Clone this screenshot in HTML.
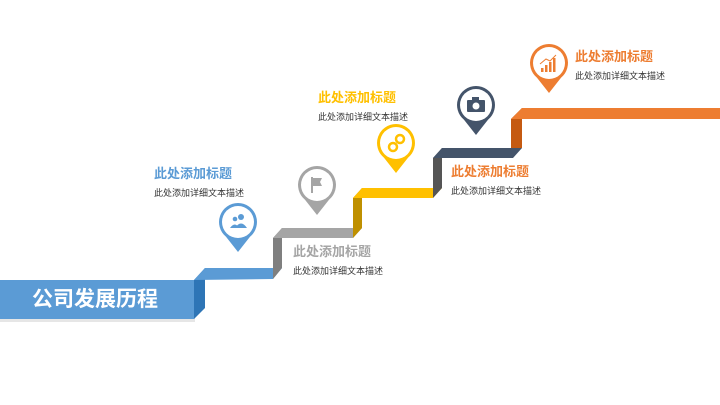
<!DOCTYPE html>
<html><head><meta charset="utf-8"><style>
html,body{margin:0;padding:0;background:#fff;}
svg{display:block;}
text{font-family:"Liberation Sans","Noto Sans CJK SC",sans-serif;}
.t{font-size:13px;font-weight:bold;}
.d{font-size:9px;fill:#333;}
</style></head><body>
<svg width="720" height="405" viewBox="0 0 720 405" xmlns="http://www.w3.org/2000/svg">
<defs>
<symbol id="pin" viewBox="-20 -20 40 52" overflow="visible">
<path d="M0,-19 A19,19 0 0 1 12,14.7 L0,30 L-12,14.7 A19,19 0 0 1 0,-19 Z" fill="currentColor"/>
<circle cx="0" cy="0" r="16" fill="#fff"/>
</symbol>
</defs>
<rect x="0" y="318" width="195" height="4" fill="#e6e6e6"/>
<rect x="0" y="280" width="194" height="39" fill="#5b9bd5"/>
<polygon points="194,280 205,268 205,308 194,319" fill="#2e75b6"/>
<polygon points="194,280 205,268 282,268 273,279" fill="#5b9bd5"/>
<polygon points="273,279 273,238 282,228 282,268" fill="#7f7f7f"/>
<polygon points="273,238 282,228 362,228 353,238" fill="#a5a5a5"/>
<polygon points="353,238 353,198 362,188 362,228" fill="#bf9000"/>
<polygon points="353,198 362,188 442,188 433,198" fill="#ffc000"/>
<polygon points="433,198 433,158 442,148 442,188" fill="#555"/>
<polygon points="433,158 442,148 522,148 513,158" fill="#44546a"/>
<polygon points="511,148 511,119 522,108 522,148" fill="#c55a11"/>
<polygon points="511,119 522,108 720,108 720,119" fill="#ed7d31"/>

<use href="#pin" x="218" y="202" width="40" height="52" style="color:#5b9bd5"/>
<use href="#pin" x="297" y="165" width="40" height="52" style="color:#a5a5a5"/>
<use href="#pin" x="376" y="123" width="40" height="52" style="color:#ffc000"/>
<use href="#pin" x="456" y="85" width="40" height="52" style="color:#44546a"/>
<use href="#pin" x="529" y="43" width="40" height="52" style="color:#ed7d31"/>
<g fill="#5b9bd5"><circle cx="241" cy="217" r="3"/><path d="M235,228 q6,-9 12,0z"/><circle cx="235" cy="219" r="2.3"/><path d="M230,228 q5,-7 9,0z"/></g>
<g fill="#a5a5a5"><rect x="311" y="177" width="2" height="16"/><path d="M313,178 h9 l-2,4 l2,4 h-9z"/></g>
<g fill="none" stroke="#ffc000" stroke-width="2.5"><circle cx="400" cy="139" r="4"/><circle cx="393" cy="147" r="4"/></g>
<g fill="#44546a"><rect x="467" y="100" width="18" height="12" rx="1"/><rect x="472" y="97" width="7" height="4"/><circle cx="476" cy="106" r="3.5" fill="#fff"/></g>
<g fill="#ed7d31"><rect x="541" y="68" width="2.5" height="4"/><rect x="545" y="65" width="2.5" height="7"/><rect x="549" y="62" width="2.5" height="10"/><rect x="553" y="58" width="2.5" height="14"/><path d="M540,64 l6,-5 l4,2 l6,-6" stroke="#ed7d31" fill="none" stroke-width="1"/></g>

<text x="32" y="306" font-size="21" font-weight="bold" fill="#fff">公司发展历程</text>
<text x="154" y="178" class="t" fill="#5b9bd5">此处添加标题</text>
<text x="154" y="196" class="d">此处添加详细文本描述</text>
<text x="293" y="256" class="t" fill="#a5a5a5">此处添加标题</text>
<text x="293" y="274" class="d">此处添加详细文本描述</text>
<text x="318" y="102" class="t" fill="#ffc000">此处添加标题</text>
<text x="318" y="120" class="d">此处添加详细文本描述</text>
<text x="451" y="176" class="t" fill="#ed7d31">此处添加标题</text>
<text x="451" y="194" class="d">此处添加详细文本描述</text>
<text x="575" y="61" class="t" fill="#ed7d31">此处添加标题</text>
<text x="575" y="79" class="d">此处添加详细文本描述</text>
</svg>
</body></html>
